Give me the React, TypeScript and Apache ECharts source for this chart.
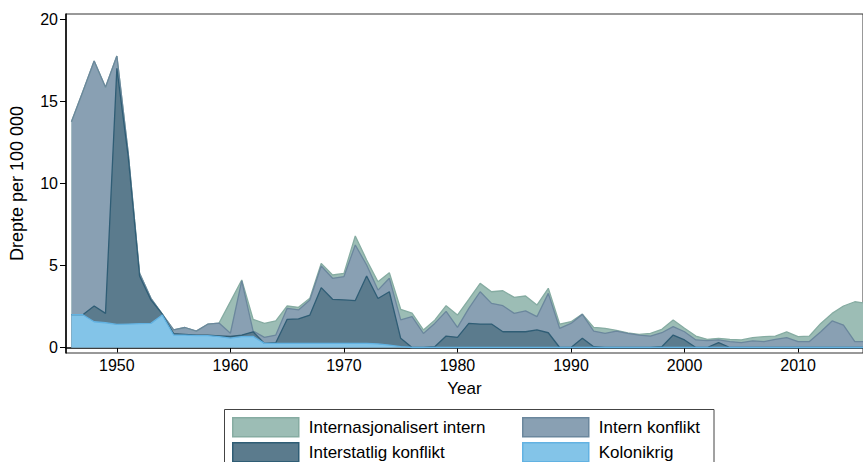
import React, { useEffect, useRef } from "react";
import * as echarts from "echarts";

const years = [
  1946, 1947, 1948, 1949, 1950, 1951, 1952, 1953, 1954, 1955,
  1956, 1957, 1958, 1959, 1960, 1961, 1962, 1963, 1964, 1965,
  1966, 1967, 1968, 1969, 1970, 1971, 1972, 1973, 1974, 1975,
  1976, 1977, 1978, 1979, 1980, 1981, 1982, 1983, 1984, 1985,
  1986, 1987, 1988, 1989, 1990, 1991, 1992, 1993, 1994, 1995,
  1996, 1997, 1998, 1999, 2000, 2001, 2002, 2003, 2004, 2005,
  2006, 2007, 2008, 2009, 2010, 2011, 2012, 2013, 2014, 2015, 2016,
];

// Kolonikrig (bottom layer)
const kolonikrig = [
  2.0, 2.0, 1.57, 1.51, 1.41, 1.43, 1.45, 1.47, 1.98, 0.76,
  0.76, 0.72, 0.72, 0.66, 0.57, 0.66, 0.68, 0.25, 0.25, 0.25,
  0.25, 0.25, 0.25, 0.25, 0.25, 0.25, 0.25, 0.22, 0.15, 0.05,
  0, 0, 0, 0, 0, 0, 0, 0, 0, 0,
  0, 0, 0, 0, 0, 0, 0, 0, 0, 0,
  0, 0, 0, 0, 0, 0, 0, 0, 0, 0,
  0, 0, 0, 0, 0, 0, 0, 0, 0, 0, 0,
];

// Interstatlig konflikt
const interstatlig = [
  0, 0, 0.96, 0.57, 15.61, 10.2, 2.91, 1.43, 0.05, 0.09,
  0.04, 0.03, 0.03, 0.05, 0.1, 0.1, 0.28, 0, 0.04, 1.47,
  1.49, 1.73, 3.4, 2.69, 2.65, 2.61, 4.11, 2.77, 3.25, 0.51,
  0, 0, 0.05, 0.7, 0.62, 1.47, 1.43, 1.43, 0.96, 0.96,
  0.96, 1.07, 0.9, 0, 0, 0.56, 0.05, 0, 0, 0,
  0, 0, 0.05, 0.76, 0.46, 0, 0, 0.3, 0, 0,
  0, 0, 0, 0, 0, 0, 0, 0, 0, 0, 0,
];

// Intern konflikt
const intern = [
  11.77, 13.6, 14.94, 13.79, 0.75, 0.22, 0.16, 0.1, 0, 0.22,
  0.42, 0.25, 0.67, 0.78, 0.2, 3.3, 0.04, 0.37, 0.47, 0.67,
  0.55, 0.92, 1.32, 1.28, 1.42, 3.39, 0.67, 0.51, 0.82, 1.12,
  1.88, 0.86, 1.42, 1.5, 0.61, 0.92, 1.97, 1.26, 1.59, 1.12,
  1.27, 0.81, 2.4, 1.17, 1.47, 1.46, 0.95, 0.86, 1.0, 0.86,
  0.76, 0.7, 0.85, 0.51, 0.5, 0.46, 0.42, 0.16, 0.36, 0.3,
  0.4, 0.36, 0.5, 0.6, 0.36, 0.36, 0.96, 1.62, 1.37, 0.36, 0.35,
];

// Internasjonalisert intern (top layer)
const internasjonalisert = [
  0, 0, 0, 0, 0, 0, 0, 0, 0, 0,
  0, 0, 0, 0, 1.93, 0.06, 0.72, 0.85, 0.87, 0.14,
  0.16, 0.1, 0.16, 0.2, 0.2, 0.55, 0.31, 0.51, 0.34, 0.65,
  0.21, 0.21, 0.2, 0.35, 0.75, 0.55, 0.51, 0.71, 0.91, 0.98,
  0.91, 0.71, 0.31, 0.26, 0.1, 0.02, 0.23, 0.31, 0.05, 0.03,
  0.04, 0.16, 0.21, 0.41, 0.21, 0.24, 0.08, 0.1, 0.14, 0.16,
  0.2, 0.3, 0.2, 0.35, 0.3, 0.34, 0.51, 0.46, 1.16, 2.43, 2.35,
];

const xTicks = [1950, 1960, 1970, 1980, 1990, 2000, 2010];
const yTicks = [0, 5, 10, 15, 20];

const names = {
  n: "Internasjonalisert intern",
  i: "Intern konflikt",
  s: "Interstatlig konflikt",
  k: "Kolonikrig",
};

const FONT = "'Liberation Sans', Arial, Helvetica, sans-serif";

export default function App() {
  const ref = useRef<HTMLDivElement>(null);

  useEffect(() => {
    if (!ref.current) return;
    const chart = echarts.init(ref.current, undefined, { renderer: "svg" });

    const layers = [
      { key: "k", name: names.k, vals: kolonikrig, fill: "#83c4e8", line: "#62b2e2" },
      { key: "s", name: names.s, vals: interstatlig, fill: "#5b7b8d", line: "#2f5d75" },
      { key: "i", name: names.i, vals: intern, fill: "#89a0b3", line: "#6b879d" },
      { key: "n", name: names.n, vals: internasjonalisert, fill: "#9cbdb5", line: "#86aca2" },
    ];

    // cumulative tops (stack bottom -> top)
    const running = years.map(() => 0);
    const cumulative = layers.map((l) => {
      const d = years.map((y, idx) => {
        running[idx] += l.vals[idx];
        return [y, +running[idx].toFixed(4)];
      });
      return { ...l, data: d };
    });

    // draw top-most cumulative first so lower layers paint over it
    const series = cumulative
      .slice()
      .reverse()
      .map((l) => ({
        name: l.name,
        type: "line",
        data: l.data,
        symbol: "none",
        showSymbol: false,
        color: l.fill,
        lineStyle: { color: l.line, width: 1.3 },
        areaStyle: { color: l.fill, opacity: 1 },
        emphasis: { disabled: true },
        clip: true,
      }));

    const byKey: Record<string, any> = {};
    layers.forEach((l) => (byKey[l.key] = l));

    const legendSpec = [
      { key: "n", left: 232, top: 417 },
      { key: "i", left: 522, top: 417 },
      { key: "s", left: 232, top: 442 },
      { key: "k", left: 522, top: 442 },
    ];

    chart.setOption({
      animation: false,
      textStyle: { fontFamily: FONT },
      grid: {
        left: 65,
        top: 14,
        right: 0,
        bottom: 109,
        show: true,
        borderColor: "#333",
        borderWidth: 1,
        backgroundColor: "transparent",
      },
      xAxis: {
        type: "value",
        min: 1945.52,
        max: 2015.72,
        name: "Year",
        nameLocation: "middle",
        nameGap: 27,
        nameTextStyle: { fontSize: 17, color: "#000", fontFamily: FONT },
        axisLine: { show: true, lineStyle: { color: "#000", width: 1.5 } },
        axisTick: { show: true, length: 5, customValues: xTicks, lineStyle: { color: "#000" } },
        axisLabel: {
          customValues: xTicks,
          fontSize: 16,
          color: "#000",
          margin: 4,
          fontFamily: FONT,
          formatter: (v: number) => String(Math.round(v)),
        },
        splitLine: { show: false },
      },
      yAxis: {
        type: "value",
        min: -0.335,
        max: 20.335,
        name: "Drepte per 100 000",
        nameLocation: "middle",
        nameGap: 40,
        nameRotate: 90,
        nameTextStyle: { fontSize: 18, color: "#000", fontFamily: FONT },
        axisLine: { show: true, lineStyle: { color: "#000", width: 1.5 } },
        axisTick: { show: true, length: 6, customValues: yTicks, lineStyle: { color: "#000" } },
        axisLabel: {
          customValues: yTicks,
          fontSize: 16,
          color: "#000",
          margin: 8,
          fontFamily: FONT,
          formatter: (v: number) => String(Math.round(v)),
        },
        splitLine: { show: false },
      },
      legend: legendSpec.map((s) => ({
        data: [
          {
            name: byKey[s.key].name,
            itemStyle: { color: byKey[s.key].fill, borderColor: byKey[s.key].line, borderWidth: 1.5 },
          },
        ],
        left: s.left,
        top: s.top,
        padding: 0,
        itemWidth: 66,
        itemHeight: 19,
        icon: "rect",
        selectedMode: false,
        textStyle: { fontSize: 17, color: "#000", fontFamily: FONT, padding: [0, 0, 0, 5] },
      })),
      graphic: [
        {
          type: "rect",
          shape: { x: 224.5, y: 409.5, width: 489.5, height: 70 },
          style: { fill: "none", stroke: "#444", lineWidth: 1 },
          silent: true,
        },
      ],
      series,
    });

    return () => chart.dispose();
  }, []);

  return (
    <div
      ref={ref}
      style={{ position: "absolute", left: 0, top: 0, width: 863, height: 462, background: "#fff" }}
    />
  );
}
